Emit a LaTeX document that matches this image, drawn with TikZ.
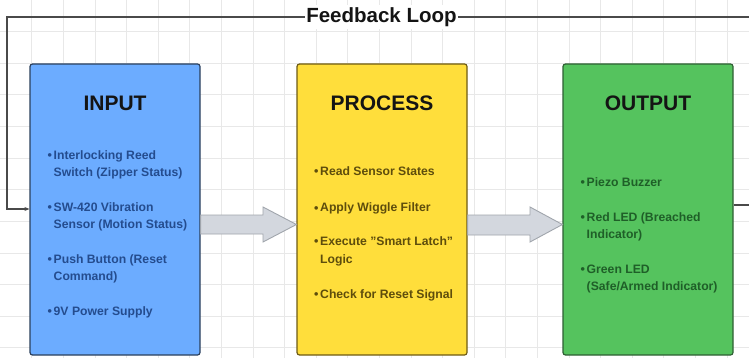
\documentclass[tikz,border=0pt]{standalone}
\usepackage{fontspec}
\setmainfont{Liberation Sans}
\usetikzlibrary{arrows.meta}
\definecolor{gridc}{HTML}{E8E8E8}
\definecolor{inFill}{HTML}{6CACFF}
\definecolor{inDraw}{HTML}{2B3F5C}
\definecolor{inText}{HTML}{244C8E}
\definecolor{prFill}{HTML}{FFDE3B}
\definecolor{prDraw}{HTML}{6E5B14}
\definecolor{prText}{HTML}{5E4D0C}
\definecolor{ouFill}{HTML}{55C35E}
\definecolor{ouDraw}{HTML}{2E5F33}
\definecolor{ouText}{HTML}{1F5F28}
\definecolor{arrFill}{HTML}{D3D7DE}
\definecolor{arrDraw}{HTML}{A0A5AC}
\definecolor{loopc}{HTML}{4A4A4A}
\tikzset{
  stagebox/.style={draw, line width=1.2pt, rounded corners=2.5pt, minimum width=170pt, minimum height=291pt, inner sep=0pt},
  stagetitle/.style={anchor=base, inner sep=0pt, font=\bfseries\fontsize{21}{24}\selectfont, text=black!92},
  itemlist/.style={anchor=base west, inner sep=0pt, font=\bfseries\fontsize{12.2}{17}\selectfont},
  blockarrow/.style={fill=arrFill, draw=arrDraw, line width=0.9pt, line join=miter},
  looppath/.style={draw=loopc, line width=1.1pt},
  gridline/.style={draw=gridc, line width=0.6pt}
}
\newcommand{\bul}{\makebox[5.5pt][l]{\hspace{-0.5pt}\fontsize{12.5}{12}\selectfont\textbullet}}
\begin{document}
\begin{tikzpicture}[x=1pt,y=-1pt]
\clip (0,0) rectangle (749,358);
\fill[white] (0,0) rectangle (749,358);
% grid
\foreach \i in {1,...,23} \draw[gridline] (31.6*\i,0) -- (31.6*\i,358);
\foreach \j in {1,...,11} \draw[gridline] (0,31.6*\j) -- (749,31.6*\j);

% boxes
\node[stagebox, fill=inFill, draw=inDraw] (in) at (115,209.5) {};
\node[stagebox, fill=prFill, draw=prDraw] (proc) at (382,209.5) {};
\node[stagebox, fill=ouFill, draw=ouDraw] (out) at (648,209.5) {};

% titles
\node[stagetitle] (inT) at (115,110.5) {INPUT};
\node[stagetitle] (procT) at (382,110.5) {PROCESS};
\node[stagetitle] (outT) at (648,110.5) {OUTPUT};

% lists
\node[itemlist, text=inText] (inL) at (48,160) {%
\begin{tabular}[t]{@{}l@{}l@{}}
\bul & Interlocking Reed\\
 & Switch (Zipper Status)\\[18pt]
\bul & SW-420 Vibration\\
 & Sensor (Motion Status)\\[18pt]
\bul & Push Button (Reset\\
 & Command)\\[18pt]
\bul & 9V Power Supply
\end{tabular}};
\node[itemlist, text=prText] (procL) at (314.5,176) {%
\begin{tabular}[t]{@{}l@{}l@{}}
\bul & Read Sensor States\\[19pt]
\bul & Apply Wiggle Filter\\[17pt]
\bul & Execute "Smart Latch"\\
 & Logic\\[18pt]
\bul & Check for Reset Signal
\end{tabular}};
\node[itemlist, text=ouText] (outL) at (581,186) {%
\begin{tabular}[t]{@{}l@{}l@{}}
\bul & Piezo Buzzer\\[18pt]
\bul & Red LED (Breached\\
 & Indicator)\\[18pt]
\bul & Green LED\\
 & (Safe/Armed Indicator)
\end{tabular}};

% block arrows
\draw[blockarrow] (in.east |- 0,215) -- (263,215) -- (263,207) -- (proc.west |- 0,224.5)
  -- (263,242) -- (263,234) -- (in.east |- 0,234) -- cycle;
\draw[blockarrow] (proc.east |- 0,215) -- (530,215) -- (530,207) -- (out.west |- 0,224.5)
  -- (530,242) -- (530,235) -- (proc.east |- 0,235) -- cycle;

% feedback loop
\coordinate (fbA) at (760,205);
\coordinate (fbB) at (760,17);
\coordinate (fbC) at (7,17);
\coordinate (fbD) at (7,209);
\draw[looppath, -{Stealth[length=5pt,width=4pt]}] (out.east |- fbA) -- (fbA) -- (fbB) -- (fbC) -- (fbD) -- (in.west |- fbD);
\node[fill=white, inner xsep=1.5pt, inner ysep=2pt, font=\bfseries\fontsize{20.5}{24}\selectfont, text=black!92] (fb) at (381.5,17) {Feedback Loop};
\end{tikzpicture}
\end{document}
